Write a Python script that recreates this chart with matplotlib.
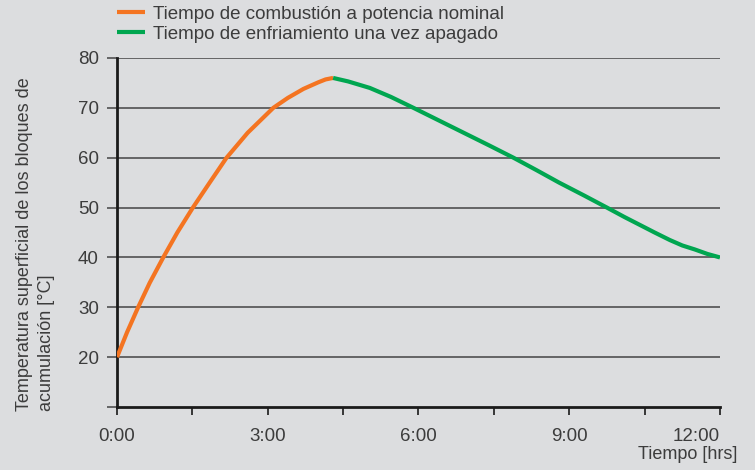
import matplotlib
matplotlib.use('Agg')
import matplotlib.pyplot as plt

plt.rcParams['font.family'] = ['Liberation Sans', 'DejaVu Sans']

# datos (horas, grados C)
t_combustion = [0, 0.2, 0.42, 0.65, 0.92, 1.2, 1.51, 1.85, 2.18, 2.6, 3.11, 3.4, 3.71, 4.0, 4.15, 4.3]
temp_combustion = [20, 25, 30, 34.9, 40, 45, 50, 55.1, 60, 65.0, 70, 72.0, 73.8, 75.1, 75.7, 76]
t_enfriamiento = [4.3, 4.6, 5.03, 5.45, 5.9, 6.4, 6.9, 7.4, 7.89, 8.35, 8.8, 9.3, 9.75,
                  10.1, 10.41, 10.7, 11.0, 11.25, 11.5, 11.75, 12]
temp_enfriamiento = [76, 75.3, 74.0, 72.2, 70, 67.5, 65, 62.5, 60, 57.5, 55, 52.4, 50,
                     48.1, 46.5, 45, 43.5, 42.4, 41.6, 40.7, 40]

x_ticks = [0, 3, 6, 9, 12]
x_ticklabels = ['0:00', '3:00', '6:00', '9:00', '12:00']
x_minor = [1.5, 4.5, 7.5, 10.5]
y_ticks = [20, 30, 40, 50, 60, 70, 80]

fondo = '#dcdddf'
texto = '#3c3c3c'
naranja = '#f47421'
verde = '#00a650'

fig = plt.figure(figsize=(7.55, 4.70), dpi=100, facecolor=fondo)
ax = fig.add_axes([0.155, 0.134, 0.7986, 0.7426], facecolor=fondo)

for y in y_ticks:
    ax.axhline(y, color='#444444', lw=1.1, zorder=1)

l1, = ax.plot(t_combustion, temp_combustion, color=naranja, lw=3, solid_capstyle='butt', zorder=3,
              label='Tiempo de combustión a potencia nominal')
l2, = ax.plot(t_enfriamiento, temp_enfriamiento, color=verde, lw=3, solid_capstyle='butt', zorder=3,
              label='Tiempo de enfriamiento una vez apagado')

ax.set_xlim(0, 12)
ax.set_ylim(10, 80)

for s in ['top', 'right']:
    ax.spines[s].set_visible(False)
ax.spines['left'].set_linewidth(2)
ax.spines['left'].set_color('#1a1a1a')
ax.spines['bottom'].set_linewidth(2)
ax.spines['bottom'].set_color('#1a1a1a')

ax.set_xticks(x_ticks)
ax.set_xticklabels(x_ticklabels)
ax.set_xticks(x_minor, minor=True)
ax.set_yticks([10] + y_ticks)
ax.set_yticklabels([''] + [str(v) for v in y_ticks])
ax.tick_params(axis='x', which='both', length=6, width=1.2, color='#1a1a1a',
               labelsize=13.5, labelcolor=texto, pad=9)
ax.tick_params(axis='y', length=7, width=1.1, color='#444444',
               labelsize=13.5, labelcolor=texto, pad=6)
ax.get_xticklabels()[-1].set_ha('right')  # 12:00 alineado a la derecha

fig.text(0.977, 0.032, 'Tiempo [hrs]', ha='right', va='center', fontsize=13, color=texto)
fig.text(0.047, 0.48, 'Temperatura superficial de los bloques de\nacumulación [°C]',
         rotation=90, ha='center', va='center', multialignment='left',
         fontsize=13, color=texto, linespacing=1.35)

fig.legend(handles=[l1, l2], loc='upper left', bbox_to_anchor=(117 / 755, 0.988),
           frameon=False, fontsize=13.5, handlelength=1.5, handletextpad=0.43,
           labelspacing=0.15, borderpad=0, borderaxespad=0, labelcolor=texto)

plt.savefig('out.png', dpi=100, facecolor=fondo)
